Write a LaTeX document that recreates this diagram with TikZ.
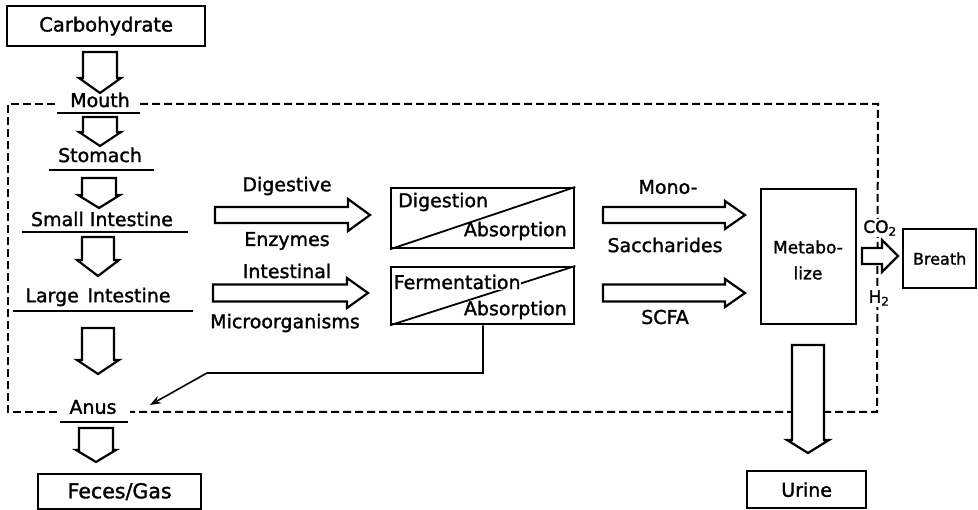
\documentclass[tikz,border=0pt]{standalone}
\usepackage{fontspec}
\setmainfont{DejaVu Sans}[FakeBold=1.5]
\usetikzlibrary{arrows.meta}
\newcommand\hblk[6]{%
  \draw[blk] (#1,#4-#5) -- (#2,#4-#5) -- (#2,#4-#6) -- (#3,#4) -- (#2,#4+#6) -- (#2,#4+#5) -- (#1,#4+#5) -- cycle;}
\newcommand\vblk[6]{%
  \draw[blk] (#1-#5,#2) -- (#1-#5,#3) -- (#1-#6,#3) -- (#1,#4) -- (#1+#6,#3) -- (#1+#5,#3) -- (#1+#5,#2) -- cycle;}
\begin{document}
\begin{tikzpicture}[x=1pt,y=-1pt,
  every node/.style={font=\fontsize{19}{21}\selectfont, inner sep=0pt},
  box/.style={draw, line width=2.3pt, minimum width=#1, anchor=north west},
  blk/.style={draw, fill=white, line width=2.2pt, line join=miter},
  uline/.style={line width=1.8pt},
  dashbox/.style={line width=2pt, dash pattern=on 8pt off 4pt},
  lbl/.style={}]
\useasboundingbox (0,0) rectangle (978,510);

% dashed body boundary
\draw[dashbox] (55,104) -- (8,104) -- (8,412) -- (58,412);
\draw[dashbox] (140,104) -- (878,104) -- (877,412) -- (130,412);

% boxes
\node[box=198pt, minimum height=40pt] (carb) at (6,5) {};
\node at (carb.center) (carbt) {\fontsize{19.5}{21}\selectfont Carbohydrate};
\node[box=163pt, minimum height=35pt] (feces) at (37,473) {};
\node at (feces.center) (fecest) {\fontsize{20.5}{22}\selectfont Feces/Gas};
\node[box=119pt, minimum height=37pt] (urine) at (746,470) {};
\node at (urine.center) (urinet) {Urine};
\node[box=95pt, minimum height=135pt] (meta) at (760,188) {};
\node at (808,247) (metat1) {\fontsize{17}{20}\selectfont Metabo-};
\node at (808,273) (metat2) {\fontsize{17}{20}\selectfont lize};
\node[box=73pt, minimum height=59pt] (breath) at (902,228) {};
\node at (breath.center) (breatht) {\fontsize{16}{20}\selectfont Breath};

\node[box=183pt, minimum height=60pt] (dig) at (390,187) {};
\draw[line width=1.8pt] (dig.south west) -- (dig.north east);
\node[anchor=west] (digt) at (398,202) {Digestion};
\node[anchor=east] (abs1) at (567,231) {Absorption};

\node[box=183pt, minimum height=57pt] (ferm) at (390,266) {};
\draw[line width=1.8pt] (ferm.south west) -- (ferm.north east);
\node[anchor=west, fill=white, inner sep=0.6pt] (fermt) at (393,282) {Fermentation};
\node[anchor=east] (abs2) at (567,310) {Absorption};

% site labels
\node (mouth) at (100,100) {Mouth};
\draw[uline] (57,113) -- (140,113);
\node (stom) at (100,155) {Stomach};
\draw[uline] (49,170) -- (154,170);
\node (small) at (102,219) {Small Intestine};
\draw[uline] (22,232) -- (188,232);
\node (large) at (98,297) {Large\hspace{0.45em}Intestine};
\draw[uline] (13,311) -- (193,311);
\node (anus) at (93,407) {Anus};
\draw[uline] (60,422) -- (128,422);

% vertical block arrows
\vblk{100}{52}{78}{93}{17}{21}
\vblk{100}{117}{132}{146}{17}{21}
\vblk{99}{178}{195}{208}{17}{21}
\vblk{98}{237}{260}{276}{16}{21}
\vblk{98}{328}{360}{374}{16}{21}
\vblk{96}{428}{450}{462}{17}{20}
\vblk{808}{345}{440}{453}{16}{21}

% horizontal block arrows
\hblk{215}{348}{370}{215}{8}{16}
\hblk{213}{347}{368}{293}{8.5}{15}
\hblk{603}{725}{745}{215}{8}{14}
\hblk{603}{725}{745}{293}{8.5}{14}
\hblk{862}{882}{898}{256}{8}{16}

% arrow labels
\node (dige) at (287,186) {Digestive};
\node (enz) at (287,241) {Enzymes};
\node (intl) at (287,271) {Intestinal};
\node (micro) at (285,323) {Microorganisms};
\node (mono) at (668,187) {Mono-};
\node (sacch) at (665,245) {Saccharides};
\node (scfa) at (665,317) {SCFA};
\node[fill=white, inner sep=1pt] (co2) at (880,228) {\fontsize{17}{18}\selectfont CO\textsubscript{2}};
\node[fill=white, inner sep=1pt] (h2) at (879,298) {\fontsize{17}{18}\selectfont H\textsubscript{2}};

% feedback line to anus
\coordinate (fb1) at (483,373);
\coordinate (fb2) at (207,373);
\coordinate (fbend) at (150,405);
\draw[line width=1.6pt, -{Stealth[length=11pt,width=8pt]}] (ferm.south -| fb1) -- (fb1) -- (fb2) -- (fbend);
\end{tikzpicture}
\end{document}
